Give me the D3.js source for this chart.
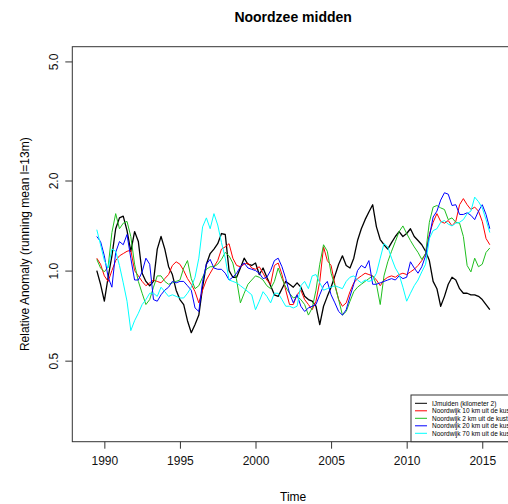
<!doctype html>
<html lang="en">
  <head>
    <meta charset="utf-8">
    <script src="https://cdnjs.cloudflare.com/ajax/libs/d3/7.8.5/d3.min.js"></script>
    <style>
      body { margin: 0; background: #fff; }
      svg { display: block; font-family: "Liberation Sans", Arial, sans-serif; }
    </style>
    <title>Noordzee midden</title>
  </head>
  <body>
    <div id="my_dataviz"></div>
    <script>
    // quarterly running-mean anomalies (1989.5 .. 2015.5)
    var seriesNames = [
        "IJmuiden (kilometer 2)",
        "Noordwijk 10 km uit de kust",
        "Noordwijk 2 km uit de kust",
        "Noordwijk 20 km uit de kust",
        "Noordwijk 70 km uit de kust"
    ];
    var seriesColours = ["#000000", "#ff0000", "#1fbf1f", "#0000ff", "#00ffff"];

    var xTicks = [1990, 1995, 2000, 2005, 2010, 2015];
    var yTicks = [0.5, 1.0, 2.0, 5.0];

    var ijmuiden = [
        1.00, 0.90,
        0.79, 0.95, 1.12, 1.38,  1.50, 1.52, 1.36, 1.16,  1.35, 1.25, 0.98, 0.92,
        0.89, 0.92, 1.18, 1.30,  1.18, 1.03, 0.97, 0.86,  0.80, 0.77, 0.68, 0.62,
        0.66, 0.71, 0.88, 1.05,  1.14, 1.18, 1.23, 1.33,  1.32, 1.00, 0.95, 0.95,
        1.02, 1.10, 1.05, 1.04,  1.06, 0.97, 1.02, 0.95,  0.89, 0.83, 0.82, 0.87,
        0.92, 0.90, 0.88, 0.91,  0.88, 0.82, 0.80, 0.79,  0.76, 0.66, 0.76, 0.82,
        0.88, 0.96, 1.05, 1.12,  1.04, 1.02, 1.10, 1.26,  1.38, 1.48, 1.57, 1.66,
        1.40, 1.27, 1.22, 1.18,  1.24, 1.30, 1.35, 1.30,  1.33, 1.38, 1.30, 1.26,
        1.22, 1.16, 1.08, 0.92,  0.87, 0.76, 0.82, 0.90,  0.95, 0.93, 0.87, 0.84,
        0.84, 0.83, 0.83, 0.82,  0.80, 0.77, 0.74
    ];
    var noordwijk10 = [
        1.10, 1.05,
        0.96, 0.92, 1.00, 1.08,  1.12, 1.14, 1.16, 1.17,  1.00, 0.96, 0.92, 0.89,
        0.91, 0.93, 0.92, 0.91,  0.94, 0.97, 1.04, 1.07,  1.05, 1.00, 0.94, 0.90,
        0.85, 0.78, 0.86, 0.93,  0.98, 1.03, 1.08, 1.18,  1.20, 1.23, 1.10, 1.04,
        1.03, 1.05, 1.06, 1.02,  1.01, 1.03, 0.98, 0.93,  0.90, 1.04, 1.06, 0.97,
        0.86, 0.77, 0.77, 0.83,  0.86, 0.80, 0.77, 0.74,  0.79, 0.92, 1.20, 1.08,
        1.04, 0.90, 0.80, 0.76,  0.78, 0.85, 0.91, 0.94,  0.96, 0.98, 0.97, 0.96,
        0.93, 0.89, 0.93, 0.95,  0.96, 0.95, 0.97, 0.98,  0.97, 0.99, 1.01, 1.04,
        1.08, 1.14, 1.32, 1.45,  1.55, 1.46, 1.44, 1.47,  1.41, 1.46, 1.66, 1.74,
        1.66, 1.60, 1.63, 1.58,  1.46, 1.28, 1.22
    ];
    var noordwijk2 = [
        1.09, 1.02,
        0.99, 1.03, 1.34, 1.55,  1.38, 1.44, 1.46, 1.30,  1.05, 0.92, 0.84, 0.77,
        0.80, 0.88, 0.96, 0.96,  0.92, 0.90, 0.91, 0.92,  0.93, 1.02, 1.08, 0.94,
        0.87, 0.89, 0.95, 1.01,  1.03, 1.03, 1.05, 1.09,  1.15, 1.12, 1.06, 0.93,
        0.78, 0.84, 0.90, 0.93,  0.96, 0.95, 0.93, 0.89,  0.87, 0.92, 1.02, 0.94,
        0.88, 0.84, 0.81, 0.82,  0.80, 0.77, 0.71, 0.75,  0.86, 1.05, 1.22, 1.16,
        0.98, 0.89, 0.80, 0.71,  0.73, 0.79, 0.85, 0.88,  0.90, 0.92, 0.94, 0.96,
        0.90, 0.77, 0.96, 1.07,  1.16, 1.25, 1.35, 1.41,  1.33, 1.26, 1.20, 1.15,
        1.09, 1.14, 1.45, 1.63,  1.65, 1.62, 1.60, 1.48,  1.50, 1.45, 1.44, 1.30,
        1.04, 0.99, 1.10, 1.03,  1.05, 1.15, 1.19
    ];
    var noordwijk20 = [
        1.30, 1.25,
        1.12, 0.95, 0.88, 1.15,  1.25, 1.22, 1.32, 1.10,  0.93, 0.93, 0.99, 1.10,
        1.05, 0.80, 0.79, 0.83,  0.86, 0.88, 0.92, 0.91,  0.92, 0.92, 0.89, 0.86,
        0.75, 0.73, 0.92, 1.05,  1.09, 1.02, 1.01, 1.01,  0.98, 0.93, 0.95, 0.98,
        1.03, 1.06, 1.02, 1.01,  1.00, 0.98, 0.94, 0.95,  1.00, 1.08, 1.10, 1.03,
        0.94, 0.84, 0.78, 0.83,  0.76, 0.73, 0.75, 0.76,  0.77, 0.83, 0.89, 0.92,
        0.83, 0.78, 0.73, 0.71,  0.74, 0.82, 0.90, 1.00,  1.04, 1.02, 1.08, 0.90,
        0.90, 0.91, 0.92, 0.93,  0.94, 0.93, 0.96, 0.94,  0.95, 1.07, 1.02, 0.98,
        1.03, 1.12, 1.30, 1.51,  1.58, 1.72, 1.82, 1.80,  1.65, 1.66, 1.54, 1.54,
        1.56, 1.53, 1.48, 1.58,  1.66, 1.54, 1.38
    ];
    var noordwijk70 = [
        1.37, 1.22,
        1.08, 1.02, 1.18, 1.16,  1.04, 0.91, 0.79, 0.63,  0.68, 0.72, 0.77, 0.80,
        0.84, 0.84, 0.82, 0.88,  0.85, 0.82, 0.83, 0.82,  0.81, 0.81, 0.84, 0.88,
        0.95, 1.10, 1.40, 1.50,  1.38, 1.55, 1.42, 1.24,  1.10, 0.93, 0.92, 0.91,
        0.89, 0.87, 0.85, 0.83,  0.74, 0.79, 0.85, 0.82,  0.78, 0.84, 0.84, 0.80,
        0.76, 0.76, 0.75, 0.76,  0.89, 0.92, 0.87, 0.96,  0.97, 0.91, 0.86, 0.87,
        0.88, 0.89, 0.88, 0.87,  0.92, 0.95, 0.96, 0.93,  0.91, 0.93, 0.92, 0.93,
        0.98, 1.10, 1.23, 1.20,  1.10, 1.02, 0.97, 0.88,  0.79, 0.84, 0.89, 0.93,
        0.99, 1.05, 1.28, 1.36,  1.38, 1.45, 1.47, 1.43,  1.41, 1.44, 1.45, 1.48,
        1.55, 1.58, 1.76, 1.70,  1.62, 1.48, 1.34
    ];

    var allSeries = [ijmuiden, noordwijk10, noordwijk2, noordwijk20, noordwijk70];
    var startYear = 1989.5, step = 0.25;

    // page / plot box in pixels
    var width = 508, height = 504;
    var box = {left: 72.3, top: 46.7, right: 514, bottom: 441.7};

    var svg = d3.select("#my_dataviz")
        .append("svg")
            .attr("width", width)
            .attr("height", height);

    var x = d3.scaleLinear()
        .domain([1987.88, 2017.1])
        .range([box.left, box.right]);

    var y = d3.scaleLog()
        .domain([0.268, 5.6])
        .range([box.bottom, box.top]);

    // title
    svg.append("text")
        .attr("x", (box.left + box.right) / 2)
        .attr("y", 22)
        .attr("text-anchor", "middle")
        .style("font-size", "14px")
        .style("font-weight", "bold")
        .text("Noordzee midden");

    // series
    var line = d3.line()
        .x(function(d, i) { return x(startYear + i * step); })
        .y(function(d) { return y(d); });

    allSeries.forEach(function(vals, idx) {
        svg.append("path")
            .datum(vals)
            .attr("fill", "none")
            .attr("stroke", seriesColours[idx])
            .attr("stroke-width", idx === 0 ? 1.3 : 1)
            .attr("stroke-linejoin", "round")
            .attr("d", line);
    });

    // box
    svg.append("rect")
        .attr("x", box.left)
        .attr("y", box.top)
        .attr("width", box.right - box.left)
        .attr("height", box.bottom - box.top)
        .attr("fill", "none")
        .attr("stroke", "#333")
        .attr("stroke-width", 1);

    // x axis
    var xAxis = svg.append("g")
        .attr("transform", "translate(0," + box.bottom + ")")
        .call(d3.axisBottom(x).tickValues(xTicks).tickFormat(d3.format("d")).tickSize(7).tickPadding(8));
    xAxis.select(".domain").remove();
    xAxis.selectAll("line").attr("stroke", "#333");
    xAxis.selectAll("text").style("font-size", "12px").attr("fill", "#111")
        .style("font-family", "'Liberation Sans', Arial, sans-serif");

    svg.append("text")
        .attr("x", (box.left + box.right) / 2)
        .attr("y", 501)
        .attr("text-anchor", "middle")
        .style("font-size", "12px")
        .text("Time");

    // y axis (labels parallel to the axis, like R)
    var yAxis = svg.append("g")
        .attr("transform", "translate(" + box.left + ",0)")
        .call(d3.axisLeft(y).tickValues(yTicks).tickFormat(d3.format(".1f")).tickSize(7));
    yAxis.select(".domain").remove();
    yAxis.selectAll("line").attr("stroke", "#333");
    yAxis.selectAll("text")
        .style("font-size", "12px")
        .style("font-family", "'Liberation Sans', Arial, sans-serif")
        .attr("fill", "#111")
        .attr("x", null).attr("dy", null)
        .attr("text-anchor", "middle")
        .attr("transform", "translate(-14,0) rotate(-90)");

    svg.append("text")
        .attr("transform", "translate(29," + (box.top + box.bottom) / 2 + ") rotate(-90)")
        .attr("text-anchor", "middle")
        .style("font-size", "12px")
        .text("Relative Anomaly (running mean l=13m)");

    // legend
    var legend = svg.append("g").attr("transform", "translate(411,395)");
    legend.append("rect")
        .attr("width", 120)
        .attr("height", box.bottom - 395)
        .attr("fill", "#fff")
        .attr("stroke", "#333")
        .attr("stroke-width", 1);

    seriesNames.forEach(function(name, idx) {
        var ly = 8.3 + idx * 7.5;
        legend.append("line")
            .attr("x1", 4).attr("x2", 16)
            .attr("y1", ly).attr("y2", ly)
            .attr("stroke", seriesColours[idx])
            .attr("stroke-width", 1);
        legend.append("text")
            .attr("x", 21)
            .attr("y", ly + 2.3)
            .style("font-size", "6.5px")
            .text(name);
    });
    </script>
  </body>
</html>
